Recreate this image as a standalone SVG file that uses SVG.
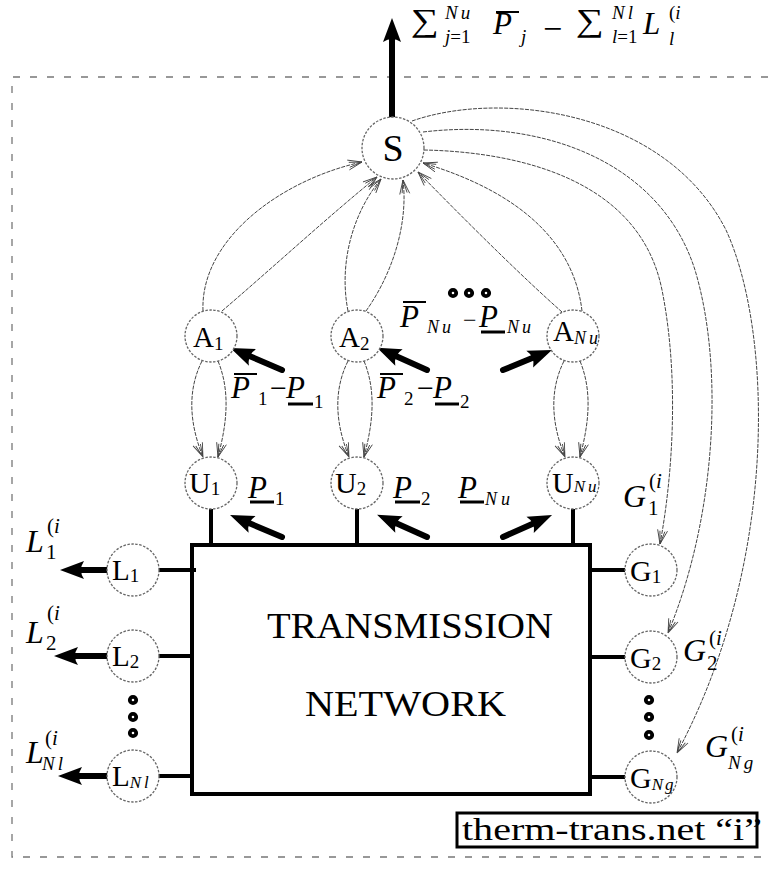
<svg xmlns="http://www.w3.org/2000/svg" width="768" height="869" viewBox="0 0 768 869" font-family="'Liberation Serif', serif">
<defs>
<style>
text{font-family:'Liberation Serif',serif;fill:#000}
.it{font-style:italic}
.nd{fill:#fff;stroke:#666;stroke-width:1.3;stroke-dasharray:2.5 1.5}
.cn{fill:none;stroke:#444;stroke-width:1;stroke-dasharray:4 1.2;marker-end:url(#oa)}
.th{fill:none;stroke:#000;stroke-width:6;stroke-linecap:round;marker-end:url(#ta)}
.bl{fill:none;stroke:#000;stroke-width:4}
.dot{fill:#fff;stroke:#000;stroke-width:3.8}
.ol{stroke:#000;stroke-width:2}
.ul{stroke:#000;stroke-width:3}
.bd{fill:none;stroke:#777;stroke-width:1.3;stroke-dasharray:7 10}
</style>
<marker id="oa" markerUnits="userSpaceOnUse" orient="auto" refX="0" refY="0" overflow="visible">
<path d="M0,0 L-14,-5 M0,0 L-13,-2.5 M0,0 L-14,5 M0,0 L-13,2.5" stroke="#444" stroke-width="0.9" fill="none"/>
</marker>
<marker id="ta" markerUnits="userSpaceOnUse" orient="auto" refX="6" refY="0" overflow="visible">
<path d="M24,0 L0,-9 Q6,0 0,9 Z" fill="#000"/>
</marker>
</defs>
<rect width="768" height="869" fill="#fff"/>
<path class="bd" d="M768,77 H12 V857 H768"/>

<g id="connectors">
<path class="cn" d="M203,311 C200,240 280,180 362,162"/>
<path class="cn" d="M222,311 C270,270 330,215 377,177"/>
<path class="cn" d="M348,311 C338,260 355,210 381,179"/>
<path class="cn" d="M366,311 C395,270 408,220 403,180"/>
<path class="cn" d="M562,312 C520,275 460,215 418,172"/>
<path class="cn" d="M582,311 C575,250 530,195 423,163"/>
<path class="cn" d="M424,150 C520,152 640,180 662,290 C680,380 672,480 660,544"/>
<path class="cn" d="M423,132 C540,118 660,160 695,270 C725,370 715,520 668,633"/>
<path class="cn" d="M412,121 C500,90 665,110 726,230 C772,330 780,560 677,753"/>
<path class="cn" d="M202,361 C185,395 192,430 203,457"/>
<path class="cn" d="M218,361 C232,395 225,430 218,457"/>
<path class="cn" d="M348,361 C331,395 338,430 349,457"/>
<path class="cn" d="M364,361 C378,395 371,430 364,457"/>
<path class="cn" d="M564,361 C547,395 554,430 565,457"/>
<path class="cn" d="M580,361 C594,395 587,430 580,457"/>
<line class="th" x1="392" y1="117" x2="392" y2="36"/>
<line class="th" x1="282" y1="370" x2="247" y2="355"/>
<line class="th" x1="427" y1="370" x2="393.5" y2="355"/>
<line class="th" x1="503" y1="370" x2="535.3" y2="356.8"/>
<line class="th" x1="282" y1="537" x2="246.6" y2="522"/>
<line class="th" x1="427" y1="537" x2="393.5" y2="522"/>
<line class="th" x1="503" y1="537" x2="535.6" y2="522.4"/>
<line class="th" x1="107" y1="570" x2="78" y2="570"/>
<line class="th" x1="107" y1="656" x2="72" y2="656"/>
<line class="th" x1="107" y1="776" x2="76" y2="776"/>
<line class="bl" x1="211" y1="509" x2="211" y2="545"/>
<line class="bl" x1="357" y1="509" x2="357" y2="545"/>
<line class="bl" x1="573" y1="509" x2="573" y2="545"/>
<line class="bl" x1="159" y1="570" x2="196" y2="570"/>
<line class="bl" x1="159" y1="656" x2="192" y2="656"/>
<line class="bl" x1="159" y1="776" x2="192" y2="776"/>
<line class="bl" x1="590" y1="570" x2="625" y2="570"/>
<line class="bl" x1="590" y1="657" x2="625" y2="657"/>
<line class="bl" x1="590" y1="777" x2="625" y2="777"/>
</g>

<g id="network">
<rect class="bl" x="192" y="545" width="398" height="249"/>
<text x="267" y="638" font-size="36" textLength="286" lengthAdjust="spacingAndGlyphs">TRANSMISSION</text>
<text x="305" y="716" font-size="36" textLength="201" lengthAdjust="spacingAndGlyphs">NETWORK</text>
</g>

<g id="S"><circle class="nd" cx="393" cy="148" r="31"/><text x="393" y="161" font-size="38" text-anchor="middle">S</text></g>
<g id="A1"><circle class="nd" cx="211" cy="336" r="26"/><text x="193" y="347" font-size="29">A<tspan font-size="19" dy="3">1</tspan></text></g>
<g id="A2"><circle class="nd" cx="357" cy="336" r="26"/><text x="339" y="347" font-size="29">A<tspan font-size="19" dy="3">2</tspan></text></g>
<g id="ANu"><circle class="nd" cx="573" cy="336" r="26"/><text x="553" y="341" font-size="29">A<tspan class="it" font-size="18" dy="3" letter-spacing="3">Nu</tspan></text></g>
<g id="U1"><circle class="nd" cx="211" cy="483" r="26"/><text x="189" y="493" font-size="30">U<tspan font-size="19" dy="2">1</tspan></text></g>
<g id="U2"><circle class="nd" cx="357" cy="483" r="26"/><text x="335" y="493" font-size="30">U<tspan font-size="19" dy="2">2</tspan></text></g>
<g id="UNu"><circle class="nd" cx="573" cy="483" r="26"/><text x="552" y="493" font-size="30">U<tspan class="it" font-size="17" dy="-1" letter-spacing="3">Nu</tspan></text></g>
<g id="L1"><circle class="nd" cx="133" cy="570" r="26"/><text x="112" y="580" font-size="29">L<tspan font-size="19" dy="2">1</tspan></text></g>
<g id="L2"><circle class="nd" cx="133" cy="656" r="26"/><text x="112" y="666" font-size="29">L<tspan font-size="19" dy="2">2</tspan></text></g>
<g id="LNl"><circle class="nd" cx="133" cy="776" r="26"/><text x="112" y="786" font-size="29">L<tspan class="it" font-size="17" dy="2" letter-spacing="3">Nl</tspan></text></g>
<g id="G1"><circle class="nd" cx="651" cy="570" r="26"/><text x="630" y="581" font-size="30">G<tspan font-size="19" dy="2">1</tspan></text></g>
<g id="G2"><circle class="nd" cx="651" cy="657" r="26"/><text x="630" y="668" font-size="30">G<tspan font-size="19" dy="2">2</tspan></text></g>
<g id="GNg"><circle class="nd" cx="651" cy="777" r="26"/><text x="630" y="788" font-size="30">G<tspan class="it" font-size="17" dy="2" letter-spacing="2">Ng</tspan></text></g>

<g id="dots">
<circle class="dot" cx="453" cy="293" r="3.2"/><circle class="dot" cx="469" cy="293" r="3.2"/><circle class="dot" cx="486" cy="293" r="3.2"/>
<circle class="dot" cx="133" cy="700" r="3.2"/><circle class="dot" cx="133" cy="717" r="3.2"/><circle class="dot" cx="133" cy="733" r="3.2"/>
<circle class="dot" cx="649" cy="700" r="3.2"/><circle class="dot" cx="649" cy="717" r="3.2"/><circle class="dot" cx="649" cy="735" r="3.2"/>
</g>

<g id="formula">
<text x="411" y="31" font-size="32" textLength="28" lengthAdjust="spacingAndGlyphs">∑</text>
<text x="445" y="19" font-size="19" class="it" letter-spacing="3">Nu</text>
<text x="445" y="43" font-size="19"><tspan class="it">j</tspan>=1</text>
<line class="ol" x1="496" y1="12" x2="519" y2="12"/>
<text x="493" y="34" font-size="31" class="it">P</text>
<text x="521" y="43" font-size="19" class="it">j</text>
<text x="543" y="40" font-size="34">−</text>
<text x="576" y="31" font-size="32" textLength="28" lengthAdjust="spacingAndGlyphs">∑</text>
<text x="612" y="19" font-size="19" class="it" letter-spacing="3">Nl</text>
<text x="612" y="43" font-size="19"><tspan class="it">l</tspan>=1</text>
<text x="643" y="34" font-size="31" class="it">L</text>
<text x="669" y="19" font-size="19">(<tspan class="it">i</tspan></text>
<text x="669" y="45" font-size="19" class="it">l</text>
</g>

<g id="labels">
<line class="ol" x1="234" y1="374" x2="257" y2="374"/>
<text x="231" y="398" font-size="31" class="it">P</text>
<text x="258" y="405" font-size="19">1</text>
<text x="270" y="398" font-size="30">−</text>
<text x="286" y="398" font-size="31" class="it">P</text>
<line class="ul" x1="288" y1="404" x2="313" y2="404"/>
<text x="314" y="408" font-size="19">1</text>

<line class="ol" x1="380" y1="374" x2="403" y2="374"/>
<text x="377" y="398" font-size="31" class="it">P</text>
<text x="404" y="405" font-size="19">2</text>
<text x="417" y="398" font-size="30">−</text>
<text x="433" y="398" font-size="31" class="it">P</text>
<line class="ul" x1="435" y1="404" x2="459" y2="404"/>
<text x="460" y="408" font-size="19">2</text>

<line class="ol" x1="403" y1="302" x2="426" y2="302"/>
<text x="400" y="327" font-size="31" class="it">P</text>
<text x="427" y="333" font-size="18" class="it" letter-spacing="3">Nu</text>
<text x="463" y="328" font-size="24">−</text>
<text x="479" y="327" font-size="31" class="it">P</text>
<line class="ul" x1="481" y1="332" x2="505" y2="332"/>
<text x="507" y="333" font-size="18" class="it" letter-spacing="3">Nu</text>

<text x="248" y="498" font-size="31" class="it">P</text>
<line class="ul" x1="250" y1="502" x2="274" y2="502"/>
<text x="275" y="505" font-size="19">1</text>
<text x="393" y="498" font-size="31" class="it">P</text>
<line class="ul" x1="395" y1="502" x2="420" y2="502"/>
<text x="421" y="505" font-size="19">2</text>
<text x="458" y="498" font-size="31" class="it">P</text>
<line class="ul" x1="460" y1="502" x2="484" y2="502"/>
<text x="485" y="505" font-size="18" class="it" letter-spacing="4">Nu</text>

<text x="26" y="552" font-size="32" class="it">L</text>
<text x="46" y="559" font-size="21">1</text>
<text x="47" y="533" font-size="21">(<tspan class="it">i</tspan></text>
<text x="26" y="643" font-size="32" class="it">L</text>
<text x="46" y="650" font-size="21">2</text>
<text x="47" y="620" font-size="21">(<tspan class="it">i</tspan></text>
<text x="26" y="763" font-size="32" class="it">L</text>
<text x="42" y="770" font-size="19" class="it" letter-spacing="3">Nl</text>
<text x="45" y="745" font-size="21">(<tspan class="it">i</tspan></text>

<text x="623" y="507" font-size="32" class="it">G</text>
<text x="648" y="515" font-size="21">1</text>
<text x="649" y="488" font-size="21">(<tspan class="it">i</tspan></text>
<text x="683" y="661" font-size="32" class="it">G</text>
<text x="707" y="670" font-size="21">2</text>
<text x="709" y="645" font-size="21">(<tspan class="it">i</tspan></text>
<text x="705" y="757" font-size="32" class="it">G</text>
<text x="728" y="769" font-size="19" class="it" letter-spacing="3">Ng</text>
<text x="731" y="741" font-size="21">(<tspan class="it">i</tspan></text>
</g>

<g id="caption">
<text x="462" y="840" font-size="32" textLength="300" lengthAdjust="spacingAndGlyphs">therm-trans.net “i”</text>
<rect x="457" y="813" width="300" height="34" fill="none" stroke="#000" stroke-width="3"/>
</g>
</svg>
